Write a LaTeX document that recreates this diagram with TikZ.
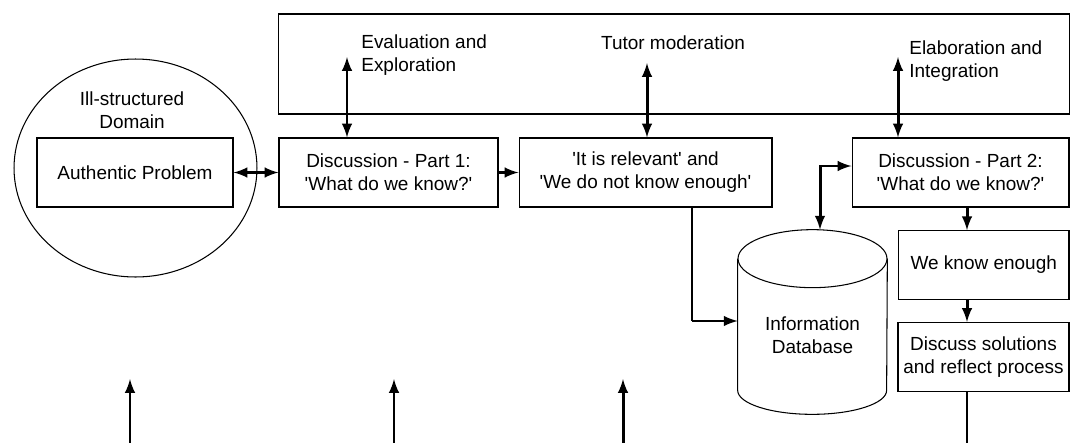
\documentclass[tikz,border=0pt]{standalone}
\usepackage{fontspec}
\setmainfont{Liberation Sans}[Ligatures=TeXOff]
\usetikzlibrary{shapes.geometric, arrows}
\usetikzlibrary{positioning}
\tikzstyle{process} = [rectangle, minimum height=1.38cm, text centered, align=center, draw=black, line width=0.6pt, inner sep=0.1cm]
\tikzstyle{database} = [rectangle, minimum width=2.98cm, minimum height=3.68cm]
\tikzstyle{outline} = [draw=black, line width=0.6pt]
\tikzstyle{domainOval} = [ellipse, minimum width=4.86cm, minimum height=4.36cm, draw=black, line width=0.6pt]
\tikzstyle{note} = [align=left, inner sep=0pt]
\tikzstyle{arrow} = [line width=1.7pt,->,>=latex]
\tikzstyle{darrow} = [line width=1.7pt,<->,>=latex]

\begin{document}
\begin{tikzpicture}[x=0.02cm, y=-0.02cm, font=\fontsize{10.8}{13}\selectfont]
\useasboundingbox (0,0) rectangle (1072,443);
\node (frame) [rectangle, draw=black, line width=0.6pt, minimum width=15.84cm, minimum height=2cm] at (674,64) {};
\node (dom) [domainOval] at (135.5,168) {};
\node (domLabel) [align=center, inner sep=0pt] at (132,110.5) {Ill-structured\\Domain};
\node (prob) [process, minimum width=3.92cm] at (135,172.5) {Authentic Problem};
\node (disc1) [process, minimum width=4.38cm] at (388.5,172.5) {Discussion - Part 1:\\'What do we know?'};
\node (rel) [process, minimum width=5.06cm] at (645.5,172.5) {'It is relevant' and\\'We do not know enough'};
\node (disc2) [process, minimum width=4.34cm] at (960.5,172.5) {Discussion - Part 2:\\'What do we know?'};
\node (db) [database] at (812.5,322) {};
\node (dbText) [align=center] at ([yshift=-0.27cm]db.center) {Information\\Database};
\draw [outline] ([yshift=-0.58cm]db.north west) -- ([yshift=0.48cm]db.south west)
  arc [start angle=180, end angle=360, x radius=1.49cm, y radius=0.48cm] -- ([yshift=-0.58cm]db.north east);
\draw [outline] ([yshift=-0.58cm]db.north) ellipse [x radius=1.49cm, y radius=0.58cm];
\node (wke) [process, minimum width=3.41cm, minimum height=1.37cm] at (983.75,265) {We know enough};
\node (sol) [process, minimum width=3.42cm] at (983.5,357) {Discuss solutions\\and reflect process};
\node (evalTxt) [note, anchor=west] at (361,55) {Evaluation and\\Exploration};
\node (tutorTxt) [note] at (673,43) {Tutor moderation};
\node (elabTxt) [note, anchor=west] at (909,61.5) {Elaboration and\\Integration};
% links to the frame
\coordinate (evalTip) at (347,57);
\coordinate (tutorTip) at (647,63);
\coordinate (elabTip) at (898,57);
\draw [darrow] (evalTip) -- (evalTip |- disc1.north);
\draw [darrow] (tutorTip) -- (tutorTip |- rel.north);
\draw [darrow] (elabTip) -- (elabTip |- disc2.north);
% main row
\draw [darrow] (prob) -- (disc1);
\draw [arrow] (disc1) -- (rel);
\coordinate (relBend) at (692,321);
\draw [line width=0.6pt] (relBend |- rel.south) -- (relBend);
\draw [arrow] (relBend) -- (relBend -| db.west);
\coordinate (dbLink) at (820,166);
\draw [darrow] (dbLink |- db.north) -- (dbLink) -- (dbLink -| disc2.west);
% right column
\coordinate (colX) at (967,443);
\draw [arrow] (colX |- disc2.south) -- (colX |- wke.north);
\draw [arrow] (colX |- wke.south) -- (colX |- sol.north);
\draw [line width=0.6pt] (colX |- sol.south) -- (colX);
% inputs from below
\foreach \x/\n in {130/a,394/b,623/c}{
  \coordinate (in\n) at (\x,443);
  \coordinate (tip\n) at (\x,379);
  \draw [arrow] (in\n) -- (tip\n);
}
\end{tikzpicture}
\end{document}
